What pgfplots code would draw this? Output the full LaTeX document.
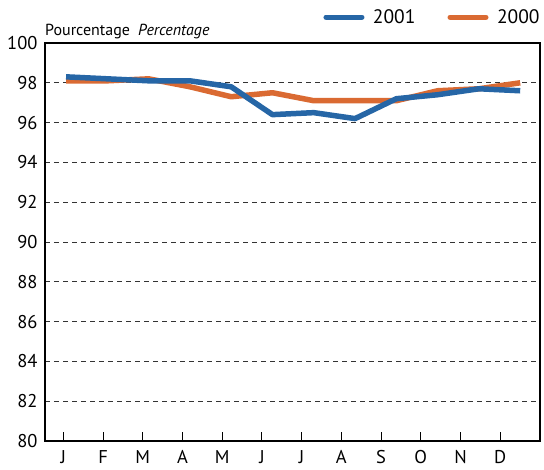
\documentclass[border=0pt]{standalone}
\usepackage{pgfplots}
\pgfplotsset{compat=1.18}
\usepackage{fontspec}
\setmainfont{PT Sans}
\definecolor{cblue}{RGB}{38,102,166}
\definecolor{corange}{RGB}{218,106,50}
\begin{document}
\begin{tikzpicture}
\begin{axis}[
  scale only axis,
  width=495pt, height=398pt,
  xmin=-0.51, xmax=11.48,
  ymin=80, ymax=100,
  ytick={80,82,...,100},
  xtick={-0.065,0.897,1.859,2.821,3.783,4.745,5.707,6.669,7.631,8.593,9.555,10.517},
  xticklabels={J,F,M,A,M,J,J,A,S,O,N,D},
  xtick pos=bottom,
  tick align=inside,
  major tick length=9pt,
  x tick style={black, line width=1pt},
  y tick style={draw=none},
  axis line style={draw=none},
  ymajorgrids,
  grid style={black!80, line width=0.8pt, dash pattern=on 5pt off 4pt},
  /pgf/number format/assume math mode=true,
  tick label style={font=\fontsize{18.5}{18.5}\selectfont},
  yticklabel style={xshift=-4pt},
  xticklabel style={yshift=-6pt},
  legend style={draw=none, fill=none, inner sep=0pt, outer sep=0pt,
    at={(axis description cs:0.5626,1.065)}, anchor=west,
    font=\fontsize{19.5}{19.5}\selectfont,
    nodes={inner sep=0pt},
    /tikz/column 1/.style={column sep=8.5pt},
    /tikz/column 2/.style={column sep=32pt},
    /tikz/column 3/.style={column sep=8.5pt}},
  legend columns=2,
  legend image code/.code={\draw[#1, line cap=round, line width=5pt] (0pt,0pt) -- (36pt,0pt);},
  reverse legend,
  clip=false,
]
\addplot[corange, line width=5.5pt, line join=round] coordinates {
(0,98.1) (1,98.1) (2,98.2) (3,97.8) (4,97.3) (5,97.5) (6,97.1) (7,97.1) (8,97.1) (9,97.6) (10,97.7) (11,98.0)};
\addlegendentry{2000}
\addplot[cblue, line width=5.5pt, line join=round] coordinates {
(0,98.3) (1,98.2) (2,98.1) (3,98.1) (4,97.8) (5,96.4) (6,96.5) (7,96.2) (8,97.2) (9,97.4) (10,97.7) (11,97.6)};
\addlegendentry{2001}
\draw[black, line width=1.2pt] (rel axis cs:0,0) rectangle (rel axis cs:1,1);
\node[anchor=south west, inner sep=0pt, text depth=0pt, yshift=7.5pt, font=\fontsize{16}{16}\selectfont] at (rel axis cs:0,1) {Pourcentage\enspace\textit{Percentage}};
\coordinate (bbl) at ([xshift=-45pt,yshift=-28pt]rel axis cs:0,0);
\coordinate (btr) at ([xshift=4pt,yshift=43pt]rel axis cs:1,1);
\end{axis}
\pgfresetboundingbox
\path[use as bounding box] (bbl) rectangle (btr);
\end{tikzpicture}
\end{document}
